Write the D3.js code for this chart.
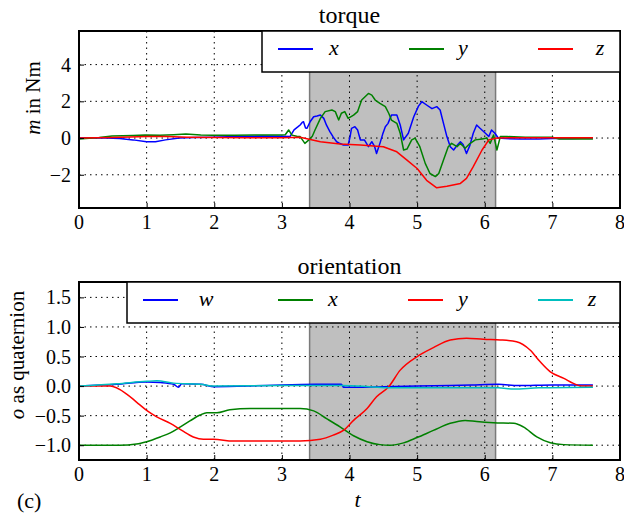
<!DOCTYPE html>
<html>
<head>
<meta charset="utf-8">
<script src="https://cdn.jsdelivr.net/npm/d3@7"></script>
</head>
<body style="margin:0; background:#fff">
<div id="container"></div>
<script>
/** DATA */
const shadeRange = [3.41, 6.16];

const torqueX = [[0,0],[0.3,0.01],[0.6,-0.03],[0.8,-0.1],[1.0,-0.2],[1.13,-0.2],[1.28,-0.1],[1.48,0],[1.7,0.03],[1.97,0.05],[2.3,0.08],[2.71,0.11],[3.0,0.1],[3.12,0.08],[3.18,0.45],[3.24,0.62],[3.27,0.71],[3.3,0.85],[3.32,0.89],[3.35,0.55],[3.37,0.53],[3.42,0.9],[3.47,1.16],[3.52,1.2],[3.57,1.25],[3.62,1.07],[3.66,0.7],[3.71,0.35],[3.76,0.05],[3.81,-0.2],[3.86,-0.3],[3.91,-0.38],[3.98,-0.38],[4.01,0.1],[4.03,0.53],[4.08,0.62],[4.12,0.44],[4.16,-0.1],[4.22,-0.1],[4.28,-0.47],[4.33,-0.2],[4.37,-0.45],[4.40,-0.84],[4.45,-0.29],[4.49,0.2],[4.53,0.62],[4.57,0.8],[4.62,1.25],[4.70,1.25],[4.75,0.71],[4.80,-0.1],[4.87,0.26],[4.95,1.16],[5.02,1.74],[5.07,1.98],[5.14,1.8],[5.22,1.6],[5.29,1.71],[5.34,1.53],[5.39,0.8],[5.44,0.08],[5.49,-0.47],[5.54,-0.65],[5.59,-0.4],[5.64,-0.2],[5.68,-0.35],[5.73,-0.84],[5.78,-0.4],[5.83,0.26],[5.88,0.71],[5.93,0.53],[6.01,0.26],[6.06,0.08],[6.10,0.44],[6.15,0.26],[6.20,0.0],[6.3,-0.03],[6.5,-0.05],[6.8,-0.05],[7.0,-0.03],[7.3,-0.02],[7.6,0.0]];

const torqueY = [[0,-0.05],[0.3,0.03],[0.49,0.11],[0.8,0.14],[0.98,0.16],[1.2,0.15],[1.4,0.18],[1.58,0.22],[1.8,0.17],[1.97,0.15],[2.3,0.15],[2.6,0.17],[2.96,0.16],[3.05,0.18],[3.10,0.44],[3.15,0.16],[3.22,0.1],[3.27,0.08],[3.34,-0.29],[3.40,-0.1],[3.45,0.1],[3.49,0.44],[3.57,1.07],[3.64,1.44],[3.74,1.53],[3.79,1.44],[3.84,0.98],[3.88,1.35],[3.93,1.44],[3.98,1.07],[4.06,1.25],[4.12,1.44],[4.18,2.07],[4.23,2.25],[4.28,2.43],[4.33,2.34],[4.38,2.07],[4.45,1.89],[4.53,1.71],[4.58,1.35],[4.62,0.98],[4.70,0.8],[4.75,0.26],[4.80,-0.65],[4.85,-0.6],[4.92,-0.1],[4.97,0.0],[5.04,-0.47],[5.12,-1.38],[5.19,-1.93],[5.27,-2.1],[5.32,-1.93],[5.39,-1.2],[5.46,-0.47],[5.51,-0.29],[5.59,-0.47],[5.64,-0.3],[5.71,-0.56],[5.78,-0.3],[5.86,-0.1],[5.96,-0.05],[6.03,0.0],[6.08,-0.29],[6.13,0.17],[6.18,-0.65],[6.23,0.08],[6.33,0.08],[6.6,0.05],[7.0,0.04],[7.1,-0.05],[7.4,-0.04],[7.6,-0.05]];

const torqueZ = [[0,0],[0.5,0.03],[1.0,0.09],[1.3,0.08],[1.6,0.05],[2.0,0.03],[2.5,0.02],[3.0,0.02],[3.27,0.04],[3.57,-0.2],[3.86,-0.33],[4.16,-0.38],[4.5,-0.47],[4.70,-0.75],[4.85,-1.2],[5.0,-1.66],[5.14,-2.3],[5.29,-2.71],[5.44,-2.62],[5.64,-2.47],[5.73,-2.2],[5.83,-1.56],[5.96,-0.65],[6.06,-0.1],[6.18,0.0],[6.5,0.02],[7.0,0.02],[7.6,0.02]];

const oriW = [[0,0],[0.56,0.03],[1.0,0.07],[1.2,0.06],[1.4,0.03],[1.47,-0.02],[1.52,0.04],[1.8,0.03],[2.0,-0.01],[2.5,0.0],[3.0,0.02],[3.5,0.03],[3.88,0.03],[3.91,-0.02],[4.5,-0.01],[5.0,0.0],[5.8,0.02],[6.2,0.03],[6.5,0.01],[7.0,0.02],[7.6,0.02]];

const oriX = [[0,-1],[0.6,-1],[0.85,-0.98],[1.0,-0.94],[1.2,-0.86],[1.35,-0.79],[1.5,-0.69],[1.64,-0.59],[1.79,-0.49],[1.89,-0.45],[2.04,-0.45],[2.23,-0.4],[2.53,-0.38],[3.27,-0.38],[3.47,-0.42],[3.66,-0.55],[3.86,-0.69],[4.06,-0.84],[4.26,-0.94],[4.45,-0.99],[4.6,-1.0],[4.8,-0.96],[5.0,-0.87],[5.24,-0.75],[5.49,-0.63],[5.71,-0.58],[5.88,-0.6],[6.13,-0.62],[6.43,-0.63],[6.57,-0.69],[6.77,-0.86],[6.97,-0.96],[7.17,-0.99],[7.6,-1.0]];

const oriY = [[0,0],[0.46,0],[0.70,-0.13],[0.85,-0.27],[1.0,-0.41],[1.15,-0.52],[1.35,-0.63],[1.52,-0.75],[1.69,-0.86],[1.84,-0.9],[1.99,-0.9],[2.28,-0.93],[2.78,-0.93],[3.27,-0.93],[3.57,-0.9],[3.76,-0.83],[3.91,-0.75],[4.06,-0.58],[4.26,-0.38],[4.40,-0.18],[4.58,-0.01],[4.75,0.27],[5.0,0.5],[5.24,0.65],[5.49,0.78],[5.73,0.81],[5.98,0.79],[6.23,0.78],[6.47,0.75],[6.67,0.61],[6.82,0.41],[6.97,0.24],[7.17,0.13],[7.31,0.045],[7.43,0],[7.6,0]];

const oriZ = [[0,0],[0.56,0.04],[1.0,0.08],[1.15,0.09],[1.4,0.05],[1.8,0.03],[2.0,0.0],[3.0,0.01],[3.9,0.01],[4.3,-0.01],[4.6,-0.03],[5.5,-0.03],[6.2,-0.03],[6.43,-0.05],[6.8,-0.03],[7.6,-0.02]];

const xTicks = [0, 1, 2, 3, 4, 5, 6, 7, 8];
const torqueTicks = [-2, 0, 2, 4];
const oriTicks = [-1.0, -0.5, 0.0, 0.5, 1.0, 1.5];

/** CONSTANTS AND GLOBALS */
const width = 624, height = 518;
const left = 79, right = 620;
const FONT = "Liberation Serif";

const svg = d3.select("#container")
  .append("svg")
  .attr("width", width)
  .attr("height", height);

// all text goes straight under the svg root, drawn after the marks
const textLayer = [];
function label(size) {
  const t = { size, attrs: {}, parts: null, text: "" };
  textLayer.push(t);
  return t;
}

const x = d3.scaleLinear().domain([0, 8]).range([left, right]);

// one panel: frame, grid, shade, lines, legend
function panel(opts) {
  const y = d3.scaleLinear().domain(opts.domain).range([opts.bottom, opts.top]);
  const g = svg.append("g");

  // shaded interval
  g.append("rect")
    .attr("x", x(shadeRange[0]))
    .attr("y", opts.top)
    .attr("width", x(shadeRange[1]) - x(shadeRange[0]))
    .attr("height", opts.bottom - opts.top)
    .attr("fill", "#bfbfbf");
  g.selectAll(".edge")
    .data(shadeRange)
    .join("line")
    .attr("x1", d => x(d)).attr("x2", d => x(d))
    .attr("y1", opts.top).attr("y2", opts.bottom)
    .attr("stroke", "#7a7a7a")
    .attr("stroke-width", 1.5);

  // grid
  g.selectAll(".gx")
    .data(xTicks.slice(1, -1))
    .join("line")
    .attr("x1", d => x(d)).attr("x2", d => x(d))
    .attr("y1", opts.top).attr("y2", opts.bottom)
    .attr("stroke", "#000")
    .attr("stroke-width", 1)
    .attr("stroke-dasharray", "1.5,4");
  g.selectAll(".gy")
    .data(opts.ticks)
    .join("line")
    .attr("x1", left).attr("x2", right)
    .attr("y1", d => y(d)).attr("y2", d => y(d))
    .attr("stroke", "#000")
    .attr("stroke-width", 1)
    .attr("stroke-dasharray", "1.5,4");

  // series
  const line = d3.line()
    .x(d => x(d[0]))
    .y(d => y(d[1]))
    .curve(opts.curve);
  opts.series.forEach(s => {
    g.append("path")
      .datum(s.data)
      .attr("fill", "none")
      .attr("stroke", s.color)
      .attr("stroke-width", 1.5)
      .attr("stroke-linejoin", "round")
      .attr("d", line);
  });

  // axes: d3 draws the inward ticks, labels are lifted to the root
  const xAxis = d3.axisBottom(x).tickValues(xTicks).tickSizeInner(-5).tickSizeOuter(0);
  const yAxis = d3.axisLeft(y).tickValues(opts.ticks).tickSizeInner(-5).tickSizeOuter(0)
    .tickFormat(opts.format);

  const ax = g.append("g").attr("transform", `translate(0,${opts.bottom})`).call(xAxis);
  const ay = g.append("g").attr("transform", `translate(${left},0)`).call(yAxis);
  [ax, ay].forEach(a => {
    a.select(".domain").remove();
    a.selectAll(".tick text").remove();
    a.selectAll(".tick line").attr("stroke", "#000");
  });
  xTicks.forEach(d => {
    const t = label(20);
    t.attrs = { x: x(d), y: opts.bottom + 21, "text-anchor": "middle" };
    t.text = x.tickFormat()(d);
  });
  opts.ticks.forEach(d => {
    const t = label(20);
    t.attrs = { x: left - 8, y: y(d) + 7, "text-anchor": "end" };
    t.text = opts.format(d).replace("-", "\u2212");
  });

  // frame
  g.append("rect")
    .attr("x", left).attr("y", opts.top)
    .attr("width", right - left).attr("height", opts.bottom - opts.top)
    .attr("fill", "none")
    .attr("stroke", "#000")
    .attr("stroke-width", 2);

  // title
  const tt = label(24);
  tt.attrs = { x: (left + right) / 2, y: opts.top - 8, "text-anchor": "middle" };
  tt.text = opts.title;

  // y label
  const yl = label(21);
  yl.attrs = { transform: `translate(${opts.ylabelX},${opts.ylabelY}) rotate(-90)`, "text-anchor": "middle" };
  yl.parts = [[opts.ylabel[0], true], [opts.ylabel[1], false]];

  // legend
  const lg = g.append("g");
  lg.append("rect")
    .attr("x", opts.legendLeft).attr("y", opts.top)
    .attr("width", right - opts.legendLeft).attr("height", 41)
    .attr("fill", "#fff")
    .attr("stroke", "#000")
    .attr("stroke-width", 1.5);
  const ly = opts.top + 18;
  opts.series.forEach((s, i) => {
    const lx = opts.legendX[i];
    lg.append("line")
      .attr("x1", lx).attr("x2", lx + 35)
      .attr("y1", ly).attr("y2", ly)
      .attr("stroke", s.color)
      .attr("stroke-width", 2);
    const t = label(22);
    t.attrs = { x: opts.labelX[i], y: ly + 6, "text-anchor": "middle", "font-style": "italic" };
    t.text = s.name;
  });
}

panel({
  top: 31, bottom: 208, domain: [-3.81, 5.83],
  ticks: torqueTicks, format: d3.format("d"),
  title: "torque", ylabel: ["m", " in Nm"], ylabelX: 40, ylabelY: 98,
  curve: d3.curveLinear,
  legendLeft: 262, legendX: [278, 409, 538], labelX: [334, 463, 600],
  series: [
    { name: "x", color: "#0000ff", data: torqueX },
    { name: "y", color: "#008000", data: torqueY },
    { name: "z", color: "#ff0000", data: torqueZ }
  ]
});

panel({
  top: 282, bottom: 460, domain: [-1.25, 1.76],
  ticks: oriTicks, format: d3.format(".1f"),
  title: "orientation", ylabel: ["o", " as quaternion"], ylabelX: 24, ylabelY: 355,
  curve: d3.curveMonotoneX,
  legendLeft: 127, legendX: [143, 278, 408, 538], labelX: [206, 333, 463, 592],
  series: [
    { name: "w", color: "#0000ff", data: oriW },
    { name: "x", color: "#008000", data: oriX },
    { name: "y", color: "#ff0000", data: oriY },
    { name: "z", color: "#00bfbf", data: oriZ }
  ]
});

// x label and panel tag
const tl = label(22);
tl.attrs = { x: (left + right) / 2 + 8, y: 507, "text-anchor": "middle", "font-style": "italic" };
tl.text = "t";
const cl = label(22);
cl.attrs = { x: 17, y: 508 };
cl.text = "(c)";

// write out the text layer
textLayer.forEach(t => {
  const el = svg.append("text")
    .attr("font-family", FONT)
    .attr("font-size", t.size)
    .attr("fill", "#000");
  Object.entries(t.attrs).forEach(([k, v]) => el.attr(k, v));
  if (t.parts) {
    t.parts.forEach(([s, it]) => {
      el.append("tspan").attr("font-style", it ? "italic" : "normal").text(s);
    });
  } else {
    el.text(t.text);
  }
});
</script>
</body>
</html>
